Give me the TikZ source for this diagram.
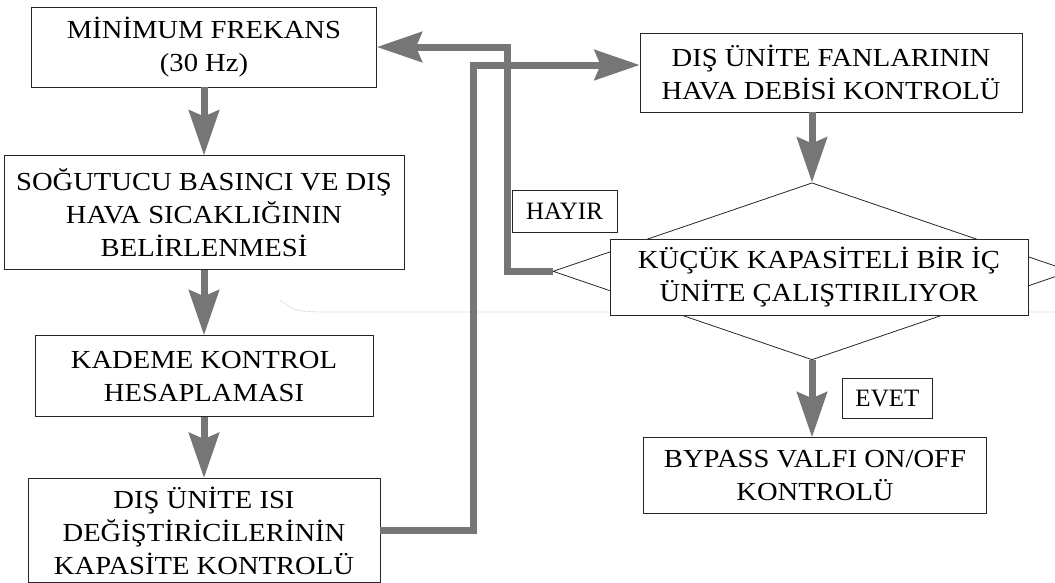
\documentclass[tikz,border=0pt]{standalone}
\usepackage{fontspec}
\setmainfont{Liberation Serif}[FakeStretch=1.1]
\newfontfamily\lblfont{Liberation Serif}
\usetikzlibrary{arrows.meta,positioning,calc,shapes.geometric}
\definecolor{flowgrey}{HTML}{767676}
\definecolor{scangrey}{HTML}{ABABAB}
\tikzset{
  block/.style = {draw=black!85, line width=0.8pt, fill=white, inner sep=0pt,
                  align=center, font=\fontsize{26}{33}\selectfont},
  cond/.style  = {draw=black!85, line width=0.8pt, diamond, inner sep=0pt,
                  minimum width=518pt, minimum height=177pt},
  sig/.style   = {-{Stealth[length=45pt,width=30pt,inset=6pt]}, line width=7pt, draw=flowgrey},
  lbl/.style   = {draw=black!85, line width=0.8pt, inner sep=0pt,
                  font=\lblfont\fontsize{25}{30}\selectfont},
  scan/.style  = {draw=scangrey, line width=0.6pt, densely dotted},
}
\begin{document}
\begin{tikzpicture}[x=1pt, y=1pt]
  \useasboundingbox (0,0) rectangle (1055,-582);
  \draw[scan] (280,-300) .. controls (295,-311) .. (320,-312) -- (1055,-312);
  % left column
  \node[block, minimum width=345pt, minimum height=80pt] (fmin) at (204,-47) {MİNİMUM FREKANS\\(30 Hz)};
  \node[block, below=68pt of fmin, minimum width=400pt, minimum height=114pt] (sens)
    {SOĞUTUCU BASINCI VE DIŞ\\HAVA SICAKLIĞININ\\BELİRLENMESİ};
  \node[block, below=65pt of sens, minimum width=338pt, minimum height=81pt] (kade) {KADEME KONTROL\\HESAPLAMASI};
  \node[block, below=61pt of kade, minimum width=352pt, minimum height=104pt] (isi)
    {DIŞ ÜNİTE ISI\\DEĞİŞTİRİCİLERİNİN\\KAPASİTE KONTROLÜ};
  % right column
  \node[block, minimum width=382pt, minimum height=79pt] (fan) at (831,-72.5) {DIŞ ÜNİTE FANLARININ\\HAVA DEBİSİ KONTROLÜ};
  \node[cond, below=70pt of fan, xshift=-19pt] (dia) {};
  \node[block, minimum width=418pt, minimum height=76pt] (kucuk) at ($(dia)+(7,-6)$)
    {KÜÇÜK KAPASİTELİ BİR İÇ\\ÜNİTE ÇALIŞTIRILIYOR};
  \node[block, below=77pt of dia, xshift=3pt, minimum width=343pt, minimum height=76pt] (bypass)
    {BYPASS VALFI ON/OFF\\KONTROLÜ};
  \draw[sig] (fmin) -- (sens);
  \draw[sig] (sens) -- (kade);
  \draw[sig] (kade) -- (isi);
  \draw[sig] (fan.south -| dia.north) -- (dia.north);
  \draw[sig] (dia.south) -- (bypass.north -| dia.south);
  % return paths
  \coordinate (hn) at (507,-47);
  \coordinate (jn) at (473,-65);
  \draw[sig] (dia.west) -| (hn) -- (fmin.east);
  \draw[sig] (isi.east) -| (jn) -- (jn -| fan.west);
  \node[lbl, minimum width=105pt, minimum height=42pt, anchor=south west] (hayir)
    at ($(dia.west)+(-41,39)$) {HAYIR};
  \path (dia.south) -- (bypass.north -| dia.south)
    node[midway, right=30pt, lbl, minimum width=90pt, minimum height=40pt] (evet) {EVET};
\end{tikzpicture}
\end{document}
